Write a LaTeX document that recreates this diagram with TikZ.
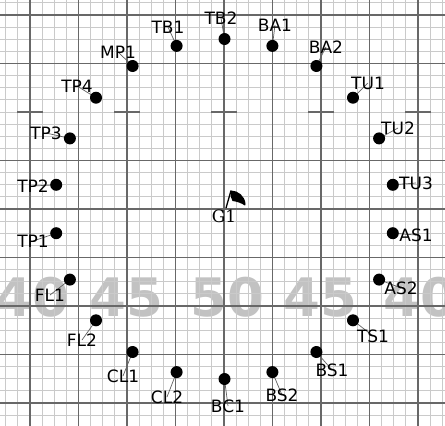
\documentclass[tikz,border=0pt]{standalone}
\usepackage{fontspec}
\setmainfont{DejaVu Sans}
\newfontfamily\serifg{DejaVu Serif}
\definecolor{finec}{HTML}{CACACA}
\definecolor{majorc}{HTML}{686868}
\definecolor{numc}{HTML}{C2C2C2}
\definecolor{leadc}{HTML}{606060}
\pgfdeclarelayer{gridlayer}
\pgfdeclarelayer{leadlayer}
\pgfsetlayers{gridlayer,leadlayer,main}
\tikzset{
  fineline/.style={draw=finec,line width=1pt},
  majorline/.style={draw=majorc,line width=1.3pt},
  numlab/.style={text=numc,inner sep=0,font=\fontsize{53}{53}\selectfont\bfseries},
  dot/.style={circle,fill=black,minimum size=12pt,inner sep=0},
  lab/.style={inner sep=0,font=\fontsize{17}{17}\selectfont},
  leader/.style={draw=leadc,line width=0.7pt},
}
\begin{document}
\begin{tikzpicture}[x=1pt,y=-1pt]
\useasboundingbox (0,0) rectangle (445,426);
\begin{pgfonlayer}{gridlayer}
\fill[white] (0,0) rectangle (445,426);
\node[numlab] (n1) at (32,297.5) {40};
\node[numlab] (n2) at (126,297.5) {45};
\node[numlab] (n3) at (227,297.5) {50};
\node[numlab] (n4) at (320,297.5) {45};
\node[numlab] (n5) at (420,297.5) {40};
\foreach \i in {-2,...,34} \draw[fineline] ({30+12.125*\i},0) -- ({30+12.125*\i},426);
\foreach \i in {-1,...,33} \draw[fineline] (0,{15+12.125*\i}) -- (445,{15+12.125*\i});
\foreach \i in {0,...,8} \draw[majorline] ({30+48.5*\i},0) -- ({30+48.5*\i},426);
\foreach \i in {0,1,3,4,5,6,7,8} \draw[majorline] (0,{15+48.5*\i}) -- (445,{15+48.5*\i});
\foreach \x in {30,127,224,321,418} \draw[majorline] ({\x-13},112) -- ({\x+13},112);
\end{pgfonlayer}

% points
\node[dot] (TB2) at (224.5,39) {};
\node[dot] (BA1) at (272.4,45.9) {};
\node[dot] (BA2) at (316.4,66.0) {};
\node[dot] (TU1) at (353.0,97.7) {};
\node[dot] (TU2) at (379.1,138.4) {};
\node[dot] (TU3) at (392.8,184.8) {};
\node[dot] (AS1) at (392.8,233.2) {};
\node[dot] (AS2) at (379.1,279.6) {};
\node[dot] (TS1) at (353.0,320.3) {};
\node[dot] (BS1) at (316.4,352.0) {};
\node[dot] (BS2) at (272.4,372.1) {};
\node[dot] (BC1) at (224.5,379) {};
\node[dot] (CL2) at (176.6,372.1) {};
\node[dot] (CL1) at (132.6,352.0) {};
\node[dot] (FL2) at (96.0,320.3) {};
\node[dot] (FL1) at (69.9,279.6) {};
\node[dot] (TP1) at (56.2,233.2) {};
\node[dot] (TP2) at (56.2,184.8) {};
\node[dot] (TP3) at (69.9,138.4) {};
\node[dot] (TP4) at (96.0,97.7) {};
\node[dot] (MP1) at (132.6,66.0) {};
\node[dot] (TB1) at (176.6,45.9) {};

% labels
\node[lab] (TB2l) at (221,18) {TB2};
\node[lab] (BA1l) at (275,25) {BA1};
\node[lab] (BA2l) at (326,47) {BA2};
\node[lab] (TU1l) at (368,83) {TU1};
\node[lab] (TU2l) at (398,128) {TU2};
\node[lab] (TU3l) at (416,183) {TU3};
\node[lab] (AS1l) at (416,235) {AS1};
\node[lab] (AS2l) at (401,288) {AS2};
\node[lab] (TS1l) at (373,336) {TS1};
\node[lab] (BS1l) at (332,370) {BS1};
\node[lab] (BS2l) at (282,395) {BS2};
\node[lab] (BC1l) at (228,406) {BC1};
\node[lab] (CL2l) at (167,397) {CL2};
\node[lab] (CL1l) at (123,376) {CL1};
\node[lab] (FL2l) at (82,340) {FL2};
\node[lab] (FL1l) at (50,295) {FL1};
\node[lab] (TP1l) at (33,241) {TP1};
\node[lab] (TP2l) at (33,186) {TP2};
\node[lab] (TP3l) at (46,133) {TP3};
\node[lab] (TP4l) at (77,86) {TP4};
\node[lab] (MP1l) at (118,52) {MP1};
\node[lab] (TB1l) at (168,27) {TB1};

\begin{pgfonlayer}{leadlayer}
\foreach \p in {TB2,BA1,BA2,TU1,TU2,TU3,AS1,AS2,TS1,BS1,BS2,BC1,CL2,CL1,FL2,FL1,TP1,TP2,TP3,TP4,MP1,TB1}
  \draw[leader] (\p.center) -- (\p l.center);
\end{pgfonlayer}

% G1 flag
\coordinate (G1) at (226,208);
\coordinate (G1top) at (231,190.5);
\draw[line width=1.3pt] (G1) -- (G1top);
\fill (G1top) .. controls (238,190.5) and (245,196) .. (245.5,204) -- (245,205.5)
  .. controls (241,203) and (237,201.5) .. (232.5,201) -- (230.5,196) -- cycle;
\node[lab,font=\fontsize{17}{17}\selectfont\serifg] (G1l) at (224,216) {G1};
\end{tikzpicture}
\end{document}
